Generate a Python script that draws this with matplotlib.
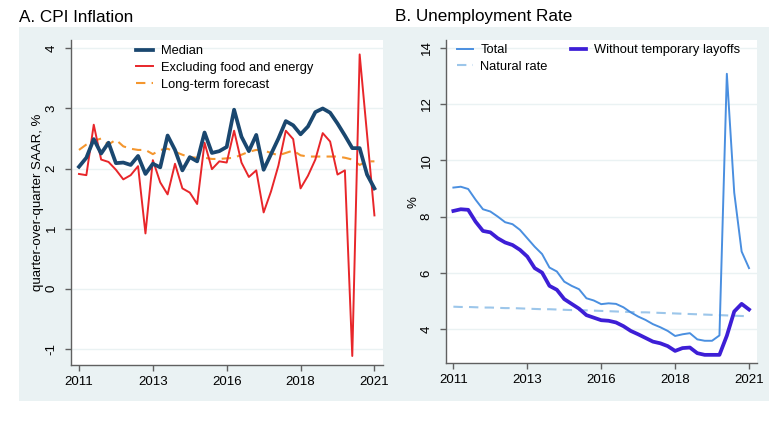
import numpy as np
import matplotlib
matplotlib.use("Agg")
import matplotlib.pyplot as plt
from matplotlib.patches import Rectangle

plt.rcParams['font.family'] = ['Liberation Sans', 'DejaVu Sans']

# ---------------- data ----------------
n_q = 41
dates = 2011 + np.arange(n_q) / 4.0  # 2011Q1 .. 2021Q1

xtick_pos = [2011, 2013.5, 2016, 2018.5, 2021]
xtick_labels = ['2011', '2013', '2016', '2018', '2021']

cpi_median = [2.03, 2.18, 2.49, 2.25, 2.43, 2.09, 2.10, 2.06, 2.21, 1.91,
              2.08, 2.02, 2.55, 2.31, 1.97, 2.19, 2.12, 2.60, 2.26, 2.29,
              2.36, 2.98, 2.53, 2.29, 2.56, 1.98, 2.24, 2.50, 2.79, 2.72,
              2.57, 2.70, 2.94, 3.00, 2.93, 2.75, 2.55, 2.34, 2.34, 1.90, 1.67]
cpi_core = [1.91, 1.89, 2.73, 2.15, 2.11, 1.98, 1.82, 1.89, 2.04, 0.92,
            2.14, 1.77, 1.57, 2.08, 1.67, 1.60, 1.41, 2.43, 1.99, 2.12,
            2.10, 2.63, 2.10, 1.86, 1.97, 1.27, 1.62, 2.05, 2.63, 2.49,
            1.67, 1.88, 2.15, 2.59, 2.45, 1.90, 1.97, -1.12, 3.90, 2.57, 1.22]
cpi_lt_forecast = [2.31, 2.40, 2.46, 2.50, 2.40, 2.48, 2.37, 2.33, 2.31, 2.31,
                   2.24, 2.31, 2.33, 2.28, 2.23, 2.19, 2.18, 2.18, 2.16, 2.16,
                   2.17, 2.18, 2.23, 2.28, 2.31, 2.30, 2.26, 2.22, 2.26, 2.30,
                   2.22, 2.20, 2.20, 2.20, 2.20, 2.20, 2.18, 2.15, 2.06, 2.12, 2.12]

ur_total = [9.03, 9.06, 8.98, 8.60, 8.26, 8.18, 8.00, 7.80, 7.73, 7.53,
            7.23, 6.93, 6.67, 6.19, 6.05, 5.69, 5.54, 5.42, 5.10, 5.02,
            4.89, 4.92, 4.90, 4.78, 4.60, 4.45, 4.33, 4.18, 4.07, 3.94,
            3.76, 3.82, 3.86, 3.64, 3.59, 3.59, 3.78, 13.07, 8.85, 6.76, 6.17]
ur_no_temp = [8.20, 8.26, 8.24, 7.82, 7.49, 7.44, 7.23, 7.08, 6.99, 6.82,
              6.58, 6.17, 6.01, 5.54, 5.40, 5.07, 4.90, 4.73, 4.50, 4.41,
              4.32, 4.30, 4.24, 4.11, 3.94, 3.82, 3.69, 3.56, 3.50, 3.40,
              3.23, 3.33, 3.35, 3.15, 3.09, 3.09, 3.09, 3.77, 4.63, 4.90, 4.70]
ur_natural = [4.80, 4.79, 4.79, 4.78, 4.77, 4.77, 4.76, 4.75, 4.75, 4.74,
              4.73, 4.72, 4.71, 4.71, 4.70, 4.69, 4.68, 4.68, 4.67, 4.66,
              4.65, 4.64, 4.63, 4.62, 4.61, 4.60, 4.60, 4.59, 4.58, 4.57,
              4.56, 4.55, 4.54, 4.53, 4.52, 4.51, 4.50, 4.49, 4.48, 4.47, 4.46]

cpi_yticks = [-1, 0, 1, 2, 3, 4]
ur_yticks = [4, 6, 8, 10, 12, 14]

# ---------------- styling ----------------
BG = '#eaf2f3'
AXC = '#606060'
W, H = 781, 421
fig = plt.figure(figsize=(W / 100, H / 100), dpi=100)
fig.patch.set_facecolor('white')

# grey graph regions (behind the axes)
fig.patches.append(Rectangle((19 / W, 1 - 401 / H), (390 - 19) / W, 374 / H,
                             transform=fig.transFigure, facecolor=BG,
                             edgecolor='none', zorder=-5))
fig.patches.append(Rectangle((390 / W, 1 - 401 / H), (769 - 390) / W, 374 / H,
                             transform=fig.transFigure, facecolor=BG,
                             edgecolor='none', zorder=-5))

ax1 = fig.add_axes([71 / W, 1 - 365 / H, (383 - 71) / W, (365 - 40) / H])
ax2 = fig.add_axes([445.7 / W, 1 - 363.3 / H, (756.7 - 445.7) / W, (363.3 - 40) / H])


def style(ax, yticks):
    ax.set_facecolor('white')
    for s in ['top', 'right']:
        ax.spines[s].set_visible(False)
    for s in ['left', 'bottom']:
        ax.spines[s].set_color(AXC)
        ax.spines[s].set_linewidth(1.0)
    ax.set_xticks(xtick_pos)
    ax.set_xticklabels(xtick_labels)
    ax.set_yticks(yticks)
    ax.set_yticklabels([str(t) for t in yticks])
    ax.tick_params(axis='x', length=4, width=1, color=AXC, labelsize=9.5, pad=4)
    ax.tick_params(axis='y', length=4.5, width=1, color=AXC, labelsize=9.5,
                   pad=5, labelrotation=90)
    for lab in ax.get_yticklabels():
        lab.set_va('center')
    ax.grid(axis='y', color=BG, linewidth=1.0)
    ax.set_axisbelow(True)


style(ax1, cpi_yticks)
style(ax2, ur_yticks)

# ---- panel A ----
ax1.plot(dates, cpi_median, color='#1a476f', lw=2.7, label='Median', zorder=4,
         solid_joinstyle='round')
ax1.plot(dates, cpi_core, color='#e8262a', lw=1.4, label='Excluding food and energy',
         zorder=3)
ax1.plot(dates, cpi_lt_forecast, color='#f4962e', lw=1.5, ls=(0, (4.5, 3)),
         label='Long-term forecast', zorder=2)
ax1.set_xlim(2010.73, 2021.29)
ax1.set_ylim(-1.27, 4.14)
ax1.set_ylabel('quarter-over-quarter SAAR, %', fontsize=9.5, labelpad=1.5)

h1 = ax1.get_legend_handles_labels()
ax1.legend(*h1, loc='upper left',
           bbox_to_anchor=((136 - 71) / 312, 1 - (45 - 40) / 325),
           frameon=False, fontsize=9.3, handlelength=1.35, handletextpad=0.55,
           labelspacing=0.38, borderaxespad=0, borderpad=0)

# ---- panel B ----
l_tot, = ax2.plot(dates, ur_total, color='#4a8fe0', lw=1.4, label='Total', zorder=3)
l_nat, = ax2.plot(dates, ur_natural, color='#9cc6ea', lw=1.5, ls=(0, (4.5, 3)),
                  label='Natural rate', zorder=2)
l_wo, = ax2.plot(dates, ur_no_temp, color='#3d1ed6', lw=2.7,
                 label='Without temporary layoffs', zorder=4, solid_joinstyle='round')
ax2.set_xlim(2010.74, 2021.26)
ax2.set_ylim(2.79, 14.27)
ax2.set_ylabel('%', fontsize=9.5, labelpad=1)

ax2.legend([l_tot, l_nat, l_wo], ['Total', 'Natural rate', 'Without temporary layoffs'],
           ncol=2, loc='upper left',
           bbox_to_anchor=((457 - 445.7) / 311, 1 - (44 - 40) / 323),
           frameon=False, fontsize=9.3, handlelength=1.2, handletextpad=0.6,
           labelspacing=0.38, columnspacing=1.8, borderaxespad=0, borderpad=0)

# titles
fig.text(19 / W, 1 - 17 / H, 'A. CPI Inflation', fontsize=12.3, va='center', ha='left')
fig.text(395 / W, 1 - 17 / H, 'B. Unemployment Rate', fontsize=12.3, va='center', ha='left')

fig.savefig('out.png', dpi=100, facecolor='white')
